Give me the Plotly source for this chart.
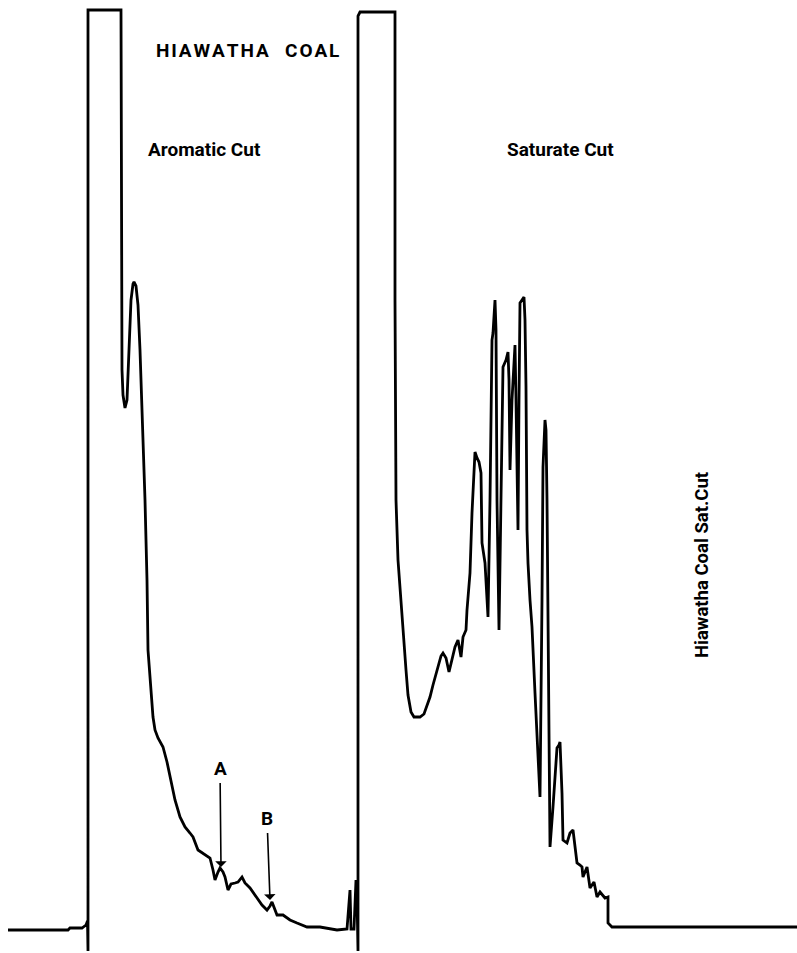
import plotly.graph_objects as go

# Chromatogram of Hiawatha coal extract: aromatic cut followed by saturate cut.
# Retention position (chart units) and detector response (chart units).
retention = [
    8, 40, 68, 70, 82, 86, 87.5, 88, 88, 121, 121.5, 122, 123, 125, 127, 129, 131, 133, 134,
    136, 138, 140, 143, 145, 147, 148, 153, 155, 158, 163, 167, 170, 175, 180, 185, 190,
    193, 198, 205, 210, 213, 215, 218, 220, 223, 225, 228, 231, 235, 238, 242, 245, 250,
    257, 262, 267, 270, 272, 274, 277, 283, 290, 297, 307, 320, 337, 347, 350, 351, 354,
    356, 357, 358, 358, 360, 395, 395, 396, 398, 400, 403, 406, 408, 411, 414, 420, 424,
    427, 430, 433, 435, 438, 441, 443, 446, 449, 452, 455, 458, 461, 463, 466, 467, 468,
    469, 470, 472, 474, 475, 477, 479, 481, 482, 485, 487, 488, 490, 492, 493, 495, 496,
    497, 499, 501, 503, 506, 508, 509, 510, 512, 514, 515, 516, 518, 519, 520, 522, 524,
    525, 526, 527, 528, 530, 532, 535, 537, 540, 542, 543, 545, 546, 547, 548, 550, 553,
    557, 559, 560, 562, 563, 567, 570, 573, 577, 580, 582, 583, 587, 590, 594, 597, 600,
    605, 608, 608, 612, 797,
]
response = [
    23, 23, 23, 25, 25, 28, 32, 2, 943, 943, 653, 583, 558, 545, 553, 603, 653, 669, 671,
    667, 648, 603, 523, 453, 373, 303, 236, 223, 215, 206, 191, 176, 153, 136, 126, 120,
    116, 103, 98, 95, 83, 73, 81, 85, 81, 76, 63, 69, 70, 71, 76, 70, 65,
    55, 48, 43, 47, 51, 45, 38, 38, 33, 30, 26, 26, 23, 24, 63, 24, 24,
    73, 56, 2, 937, 941, 941, 653, 453, 393, 363, 323, 283, 258, 241, 236, 236, 239,
    248, 256, 268, 276, 288, 297, 300, 295, 281, 293, 306, 313, 296, 316, 323, 343, 356,
    370, 380, 440, 493, 501, 495, 491, 480, 410, 390, 353, 336, 453, 613, 620, 653, 623,
    453, 323, 453, 586, 593, 601, 573, 483, 553, 593, 608, 553, 423, 553, 650, 653, 656,
    633, 566, 423, 390, 353, 326, 260, 213, 156, 353, 486, 533, 523, 453, 303, 106, 146,
    205, 208, 211, 160, 113, 110, 120, 123, 90, 88, 86, 76, 86, 65, 71, 56, 61,
    55, 56, 30, 26, 26,
]

# Peak markers on the aromatic tail: (label, label position, peak position)
marker_labels = ["A", "B"]
marker_label_x = [220, 267]
marker_label_y = [185, 135]
marker_peak_x = [221, 270]
marker_peak_y = [86, 53]

title_words = ["HIAWATHA", "COAL"]
cut_labels = ["Aromatic Cut", "Saturate Cut"]
cut_label_x = [204, 560]
cut_label_y = [804, 804]
side_label = "Hiawatha Coal Sat.Cut"

FONT = "Roboto, Liberation Sans, sans-serif"

# widely tracked heading: hair spaces between letters, a wider gap between words
title_text = "\u2009\u2009 \u2009".join("\u200a".join(w) for w in title_words)

fig = go.Figure()
fig.add_trace(go.Scatter(
    x=retention, y=response, mode="lines",
    line=dict(color="black", width=2.8, shape="linear"),
    hoverinfo="skip", showlegend=False,
))

annotations = [
    dict(x=247, y=903, text=title_text, showarrow=False,
         font=dict(family=FONT, size=19, color="black", weight="bold")),
    dict(x=702, y=388, text=side_label, showarrow=False, textangle=-90,
         font=dict(family=FONT, size=18.5, color="black", weight="bold")),
]
for lab, lx, ly in zip(cut_labels, cut_label_x, cut_label_y):
    annotations.append(dict(x=lx, y=ly, text=lab, showarrow=False,
                            font=dict(family=FONT, size=19, color="black", weight="bold")))
for lab, lx, ly, px, py in zip(marker_labels, marker_label_x, marker_label_y,
                               marker_peak_x, marker_peak_y):
    annotations.append(dict(
        x=px, y=py, ax=lx, ay=ly, axref="x", ayref="y", text=lab,
        showarrow=True, arrowhead=1, arrowsize=1.2, arrowwidth=1.6, arrowcolor="black",
        standoff=0, startstandoff=2,
        font=dict(family=FONT, size=19, color="black", weight="bold"),
    ))

fig.update_layout(
    width=797, height=953,
    margin=dict(l=0, r=0, t=0, b=0),
    paper_bgcolor="white", plot_bgcolor="white",
    xaxis=dict(range=[0, 797], visible=False, fixedrange=True),
    yaxis=dict(range=[0, 953], visible=False, fixedrange=True),
    annotations=annotations,
)

fig.write_html("out.html")
